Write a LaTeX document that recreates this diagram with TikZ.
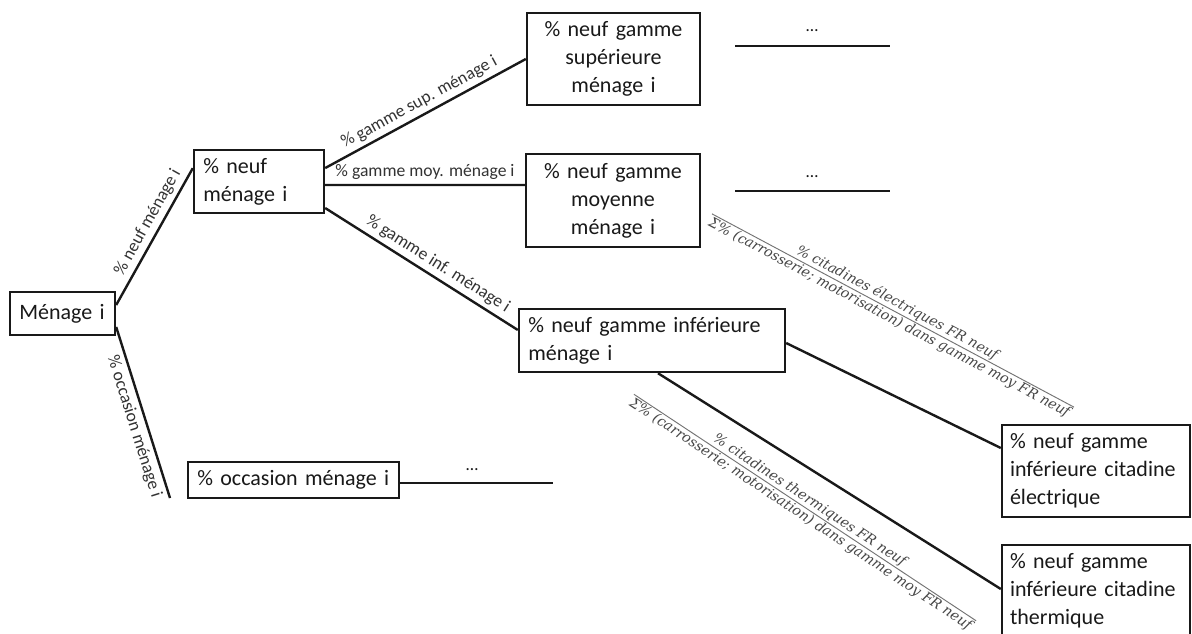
\documentclass[tikz,border=0pt]{standalone}
\usepackage{fontspec}
\setmainfont{Carlito}
\newfontfamily\fracfont{DejaVu Serif}
\usetikzlibrary{calc}
\definecolor{ink}{gray}{0.1}
\definecolor{lbl}{gray}{0.2}
\definecolor{frc}{gray}{0.28}
\definecolor{barc}{gray}{0.45}
\tikzset{
  box/.style={draw=ink, line width=1.8pt, text=ink, font=\fontsize{16.5}{21}\selectfont, inner xsep=7pt, inner ysep=0pt},
  lbox/.style={box, align=left},
  cbox/.style={box, align=center},
  conn/.style={draw=ink, line width=1.8pt},
  elbl/.style={text=lbl, font=\fontsize{13.2}{15}\selectfont, inner sep=3pt},
  fraclbl/.style={text=frc, font=\fracfont\itshape\fontsize{10.5}{12}\selectfont, inner sep=1pt},
  fracbar/.style={draw=barc, line width=0.7pt},
  dotlbl/.style={text=ink, font=\fontsize{13}{14}\selectfont, inner sep=0pt},
}
\begin{document}
\begin{tikzpicture}[x=0.75pt,y=-0.75pt]
\clip (0,0) rectangle (1192,633);
\fill[white] (0,0) rectangle (1192,633);
% boxes
\node[lbox, text width=64.75pt, minimum height=32.25pt] (men) at (62.5,313.5) {Ménage i};
\node[lbox, text width=83.5pt, minimum height=47.25pt] (neuf) at (259,181.5) {\% neuf\\ménage i};
\node[cbox, text width=115.75pt, minimum height=69pt] (sup) at (613.5,59) {\% neuf gamme\\supérieure\\ménage i};
\node[cbox, text width=116.5pt, minimum height=69.75pt] (moy) at (613,200.5) {\% neuf gamme\\moyenne\\ménage i};
\node[lbox, text width=185.5pt, minimum height=47.25pt] (inf) at (652,340.5) {\% neuf gamme inférieure\\ménage i};
\node[lbox, inner xsep=6pt, text width=129pt, minimum height=69pt] (elec) at (1096,471) {\% neuf gamme\\inférieure citadine\\électrique};
\node[lbox, inner xsep=6pt, text width=129pt, minimum height=69pt] (therm) at (1096,591) {\% neuf gamme\\inférieure citadine\\thermique};
\node[lbox, text width=144.25pt, minimum height=27pt] (occ) at (293.5,480) {\% occasion ménage i};
% connectors
\coordinate (occtip) at (170,498);
\draw[conn] ([yshift=6.4pt]men.east) -- node[elbl, sloped, above, pos=0.56] {\% neuf ménage i} ([yshift=10pt]neuf.west);
\draw[conn] ([yshift=-10.1pt]men.east) -- node[elbl, sloped, below, pos=0.56] {\% occasion ménage i} (occtip);
\draw[conn] ([yshift=10.1pt]neuf.east) -- node[elbl, sloped, above, pos=0.5] {\% gamme sup. ménage i} (sup.west);
\draw[conn] ([yshift=-2.6pt]neuf.east) -- node[elbl, above, pos=0.5] {\% gamme moy. ménage i} ([yshift=11.6pt]moy.west);
\draw[conn] ([yshift=-19.9pt]neuf.east) -- node[elbl, sloped, above, pos=0.55] {\% gamme inf. ménage i} ([yshift=7.9pt]inf.west);
\draw[conn] ([yshift=-1.9pt]inf.east) -- ([yshift=17.25pt]elec.west);
\draw[conn] ([xshift=4.5pt]inf.south) -- ([yshift=1.5pt]therm.west);
% continuation lines
\coordinate (s1) at (735,46); \coordinate (s2) at (890,46);
\coordinate (m1) at (735,191); \coordinate (m2) at (890,191);
\coordinate (o2) at (553,483);
\draw[conn] (s1) -- (s2);
\draw[conn] (m1) -- (m2);
\draw[conn] ([yshift=-2.25pt]occ.east) -- (o2);
\node[dotlbl] (d1) at (812,31) {…};
\node[dotlbl] (d2) at (812,177) {…};
\node[dotlbl] (d3) at (472,470) {…};
% fractions
\coordinate (fe) at (893,310.5);
\node[fraclbl, rotate=-28.1, anchor=south] (feN) at (fe) {\% citadines électriques FR neuf};
\node[fraclbl, rotate=-28.1, anchor=north] (feD) at (fe) {Σ\% (carrosserie; motorisation) dans gamme moy FR neuf};
\draw[fracbar] (feD.north west) -- (feD.north east);
\coordinate (ft) at (805,507.5);
\node[fraclbl, rotate=-33.5, anchor=south] (ftN) at (ft) {\% citadines thermiques FR neuf};
\node[fraclbl, rotate=-33.5, anchor=north] (ftD) at (ft) {Σ\% (carrosserie; motorisation) dans gamme moy FR neuf};
\draw[fracbar] (ftD.north west) -- (ftD.north east);
\end{tikzpicture}
\end{document}
